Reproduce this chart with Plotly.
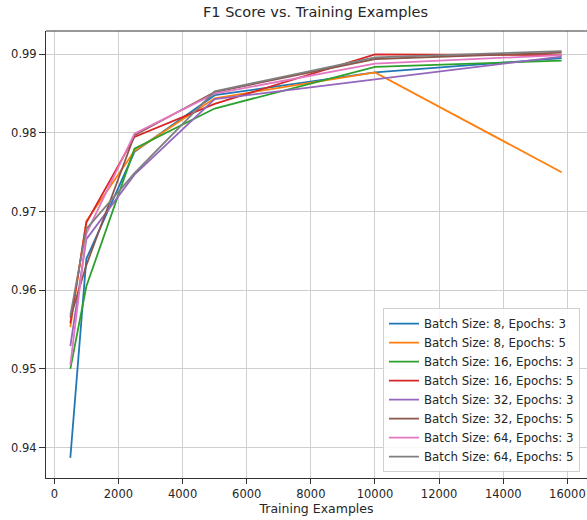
import plotly.graph_objects as go

# Training set sizes
training_examples = [500, 1000, 2500, 5000, 10000, 15820]

# F1 scores for each configuration
f1_bs8_ep3 = [0.9387, 0.9640, 0.9776, 0.9848, 0.9877, 0.9895]
f1_bs8_ep5 = [0.9553, 0.9688, 0.9777, 0.9844, 0.9877, 0.9750]
f1_bs16_ep3 = [0.9500, 0.9605, 0.9780, 0.9831, 0.9884, 0.9892]
f1_bs16_ep5 = [0.9558, 0.9686, 0.9795, 0.9837, 0.9900, 0.9899]
f1_bs32_ep3 = [0.9529, 0.9665, 0.9747, 0.9843, 0.9868, 0.9897]
f1_bs32_ep5 = [0.9565, 0.9632, 0.9797, 0.9852, 0.9894, 0.9902]
f1_bs64_ep3 = [0.9505, 0.9672, 0.9799, 0.9850, 0.9888, 0.9899]
f1_bs64_ep5 = [0.9568, 0.9678, 0.9749, 0.9853, 0.9896, 0.9904]

series_names = [
    "Batch Size: 8, Epochs: 3",
    "Batch Size: 8, Epochs: 5",
    "Batch Size: 16, Epochs: 3",
    "Batch Size: 16, Epochs: 5",
    "Batch Size: 32, Epochs: 3",
    "Batch Size: 32, Epochs: 5",
    "Batch Size: 64, Epochs: 3",
    "Batch Size: 64, Epochs: 5",
]
series_values = [f1_bs8_ep3, f1_bs8_ep5, f1_bs16_ep3, f1_bs16_ep5,
                 f1_bs32_ep3, f1_bs32_ep5, f1_bs64_ep3, f1_bs64_ep5]
colors = ["#1f77b4", "#ff7f0e", "#2ca02c", "#d62728",
          "#9467bd", "#8c564b", "#e377c2", "#7f7f7f"]

x_ticks = [0, 2000, 4000, 6000, 8000, 10000, 12000, 14000, 16000]
y_ticks = [0.94, 0.95, 0.96, 0.97, 0.98, 0.99]

font_family = "DejaVu Sans"
text_color = "#262626"
grid_color = "#cfcfcf"

fig = go.Figure()
for name, vals, col in zip(series_names, series_values, colors):
    fig.add_trace(go.Scatter(
        x=training_examples, y=vals, mode="lines", name=name,
        line=dict(color=col, width=1.8),
    ))

fig.update_layout(
    width=587, height=520,
    margin=dict(l=46, r=0, t=31, b=42),
    paper_bgcolor="white", plot_bgcolor="white",
    font=dict(family=font_family, color=text_color, size=12),
    title=dict(text="F1 Score vs. Training Examples", x=315.5 / 587,
               xanchor="center", y=1 - 12 / 520, yanchor="middle",
               font=dict(size=14.5, color=text_color)),
    showlegend=True,
    legend=dict(
        x=0.987, xanchor="right", y=0.013, yanchor="bottom",
        bgcolor="rgba(255,255,255,0.85)", bordercolor="#d0d0d0", borderwidth=1,
        font=dict(size=11.8, color=text_color),
        itemwidth=30, tracegroupgap=0,
    ),
)

fig.update_xaxes(
    range=[-259, 16611], tickvals=x_ticks, ticktext=[str(v) for v in x_ticks],
    showgrid=True, gridcolor=grid_color, gridwidth=1, zeroline=False,
    showline=True, linecolor="#333333", linewidth=1,
    ticks="outside", ticklen=5, tickcolor="#333333",
    title=dict(text="Training Examples", font=dict(size=12.5), standoff=3),
    tickfont=dict(size=11.5),
)
fig.update_yaxes(
    range=[0.93613, 0.99296], tickvals=y_ticks, ticktext=[f"{v:.2f}" for v in y_ticks],
    showgrid=True, gridcolor=grid_color, gridwidth=1, zeroline=False,
    showline=True, linecolor="#333333", linewidth=1,
    ticks="outside", ticklen=6, tickcolor="#333333",
    tickfont=dict(size=11.5),
)

# top frame line
fig.add_shape(type="line", xref="paper", yref="paper", x0=0, x1=1, y0=1, y1=1,
              line=dict(color="#333333", width=1))

fig.write_html("out.html")
